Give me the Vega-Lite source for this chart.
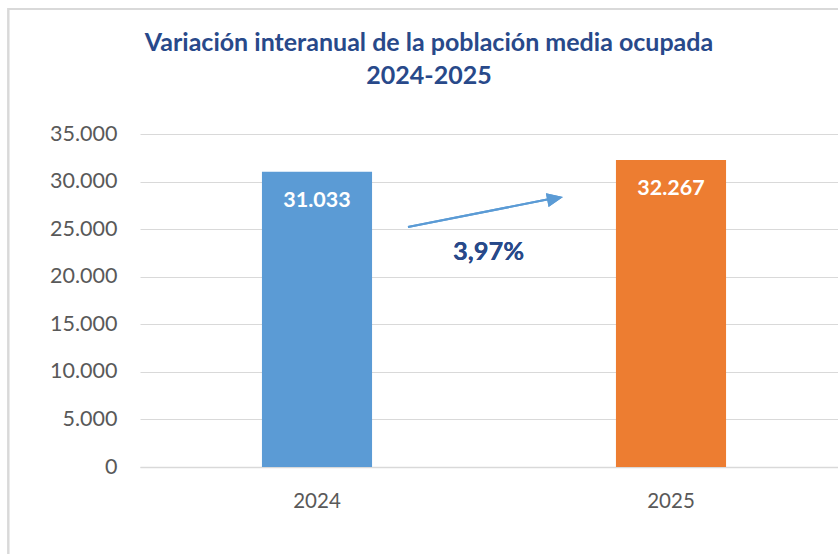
{
  "$schema": "https://vega.github.io/schema/vega-lite/v6.json",
  "autosize": "none",
  "width": 708,
  "height": 333,
  "padding": {"left": 140, "top": 134, "right": 0, "bottom": 87},
  "background": "white",
  "title": {
    "text": ["Variación interanual de la población media ocupada", "2024-2025"],
    "font": "Lato",
    "fontSize": 25,
    "fontWeight": "bold",
    "color": "#28498A",
    "anchor": "middle",
    "dx": -65,
    "dy": 85,
    "lineHeight": 33
  },
  "config": {
    "locale": {"number": {"decimal": ",", "thousands": ".", "grouping": [3], "currency": ["", " €"]}},
    "view": {"stroke": null},
    "font": "Lato"
  },
  "data": {"values": [
    {"year": "2024", "value": 31033},
    {"year": "2025", "value": 32267}
  ]},
  "layer": [
    {
      "encoding": {
        "x": {"field": "year", "type": "nominal",
          "scale": {"paddingInner": 0.689, "paddingOuter": 0.3445},
          "axis": {"title": null, "labelAngle": 0, "ticks": false, "domainColor": "#D9D9D9", "domainWidth": 1.5,
            "labelFont": "Lato", "labelFontSize": 20.5, "labelColor": "#595959", "labelPadding": 24, "grid": false}},
        "y": {"field": "value", "type": "quantitative",
          "scale": {"domain": [0, 35000], "nice": false},
          "axis": {"title": null, "values": [0, 5000, 10000, 15000, 20000, 25000, 30000, 35000], "format": ",d",
            "ticks": false, "domain": false, "gridColor": "#D9D9D9", "gridWidth": 1,
            "labelFont": "Lato", "labelFontSize": 21.5, "labelColor": "#595959", "labelPadding": 23}}
      },
      "layer": [
        {"mark": {"type": "bar"},
         "encoding": {"color": {"field": "year", "type": "nominal", "scale": {"domain": ["2024", "2025"], "range": ["#5B9BD5", "#ED7D31"]}, "legend": null}}},
        {"mark": {"type": "text", "baseline": "alphabetic", "align": "center", "dy": 35, "font": "Lato", "fontSize": 21.5, "fontWeight": "bold", "color": "white"},
         "encoding": {"text": {"field": "value", "type": "quantitative", "format": ",d"}}}
      ]
    },
    {
      "layer": [
        {"mark": {"type": "rect", "fill": null, "stroke": "#D9D9D9", "strokeWidth": 2},
         "encoding": {
           "x": {"datum": -0.372, "type": "quantitative", "scale": {"domain": [0, 2], "nice": false, "zero": false}, "axis": null},
           "x2": {"datum": 2.3},
           "y": {"datum": 48140, "type": "quantitative"},
           "y2": {"datum": -12000}
         }},
        {"mark": {"type": "rule", "color": "#5B9BD5", "strokeWidth": 2},
         "encoding": {
           "x": {"datum": 0.757, "type": "quantitative", "axis": null},
           "x2": {"datum": 1.168},
           "y": {"datum": 25225, "type": "quantitative"},
           "y2": {"datum": 28240}
         }},
        {"mark": {"type": "point", "shape": "M-1,-0.875L1,0L-1,0.875Z", "size": 256, "filled": true, "color": "#5B9BD5", "opacity": 1, "angle": -11},
         "encoding": {
           "x": {"datum": 1.1726, "type": "quantitative", "axis": null},
           "y": {"datum": 28221, "type": "quantitative"}
         }},
        {"mark": {"type": "text", "text": "3,97%", "align": "center", "baseline": "alphabetic", "font": "Lato", "fontSize": 25.5, "fontWeight": "bold", "color": "#28498A"},
         "encoding": {
           "x": {"datum": 0.9845, "type": "quantitative", "axis": null},
           "y": {"datum": 21757, "type": "quantitative"}
         }}
      ]
    }
  ],
  "resolve": {"scale": {"x": "independent"}}
}
